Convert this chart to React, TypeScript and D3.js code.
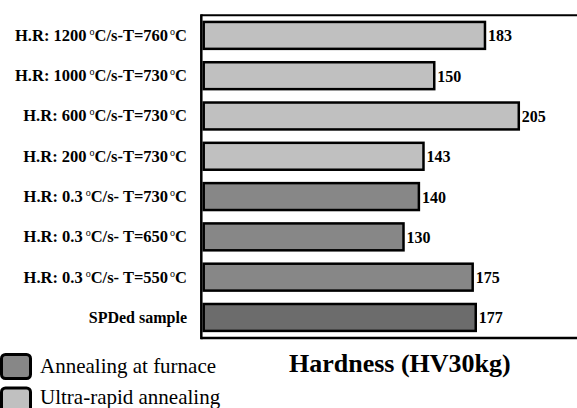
import { scaleBand, scaleLinear } from 'd3'
import { useEffect } from 'react'

// label parts: [rate, temperature]; null rate = plain label
const rates = ['1200', '1000', '600', '200', '0.3', '0.3', '0.3', null]
const temps = ['760', '730', '730', '730', '730', '650', '550', null]
const hardness = [183, 150, 205, 143, 140, 130, 175, 177]
const groups = ['ultra', 'ultra', 'ultra', 'ultra', 'furnace', 'furnace', 'furnace', 'spd']
const legendItems = ['Annealing at furnace', 'Ultra-rapid annealing']
const legendGroups = ['furnace', 'ultra']
const axisTitle = 'Hardness (HV30kg)'

const fills: Record<string, string> = {
	ultra: '#c0c0c0',
	furnace: '#878787',
	spd: '#6c6c6c',
}

const W = 577
const H = 408
const font = '"Liberation Serif", "Times New Roman", serif'

function Label({ i, x, y }: { i: number; x: number; y: number }) {
	const r = rates[i]
	const t = temps[i]
	if (r === null) {
		return (
			<text x={x} y={y} textAnchor='end' fontWeight='bold' fontSize={16}>
				SPDed sample
			</text>
		)
	}
	const slow = r === '0.3'
	return (
		<text x={x} y={y} textAnchor='end' fontWeight='bold' fontSize={16.5}>
			{`H.R: ${r}`}
			<tspan fontSize={10} dx={3} dy={-6} fontWeight='normal'>o</tspan>
			<tspan dy={6}>{slow ? 'C/s- T=' : 'C/s-T='}{t}</tspan>
			<tspan fontSize={10} dx={2} dy={-6} fontWeight='normal'>o</tspan>
			<tspan dy={6}>C</tspan>
		</text>
	)
}

export default function App() {
	useEffect(() => {
		document.body.style.margin = '0'
	}, [])

	const ids = hardness.map((_, i) => String(i))
	const y = scaleBand().domain(ids).range([15.25, 337.6]).paddingInner(0.27).paddingOuter(0.135)
	const x = scaleLinear().domain([0, 250]).range([203.7, 203.7 + 250 * 1.537])
	const sw = 2.5

	return (
		<svg width={W} height={H} style={{ position: 'absolute', left: 0, top: 0, display: 'block' }} fontFamily={font}>
			<rect width={W} height={H} fill='#fff' />

			{/* frame */}
			<line x1={201.3} x2={W} y1={15.3} y2={15.3} stroke='#000' strokeWidth={2} />
			<line x1={201.3} x2={W} y1={338} y2={338} stroke='#000' strokeWidth={2.5} />
			<line x1={201.3} x2={201.3} y1={14.3} y2={339.2} stroke='#000' strokeWidth={2.5} />

			{hardness.map((v, i) => {
				const by = y(String(i))!
				const bw = y.bandwidth()
				return (
					<g key={i}>
						<rect
							x={x(0)}
							y={by + sw / 2}
							width={x(v) - x(0)}
							height={bw - sw}
							fill={fills[groups[i]]}
							stroke='#000'
							strokeWidth={sw}
						/>
						<text x={x(v) + 3} y={by + bw / 2 + 6} fontSize={16} fontWeight='bold'>
							{v}
						</text>
						<Label i={i} x={187} y={by + bw / 2 + 5.5} />
					</g>
				)
			})}

			{/* legend */}
			{legendItems.map((name, i) => (
				<g key={name}>
					<rect
						x={1.5}
						y={354.5 + i * 33.5}
						width={29}
						height={24}
						rx={4}
						fill={fills[legendGroups[i]]}
						stroke='#000'
						strokeWidth={3}
					/>
					<text x={40} y={373 + i * 31} fontSize={21}>
						{name}
					</text>
				</g>
			))}

			<text x={289} y={372} fontSize={26} fontWeight='bold'>
				{axisTitle}
			</text>
		</svg>
	)
}
